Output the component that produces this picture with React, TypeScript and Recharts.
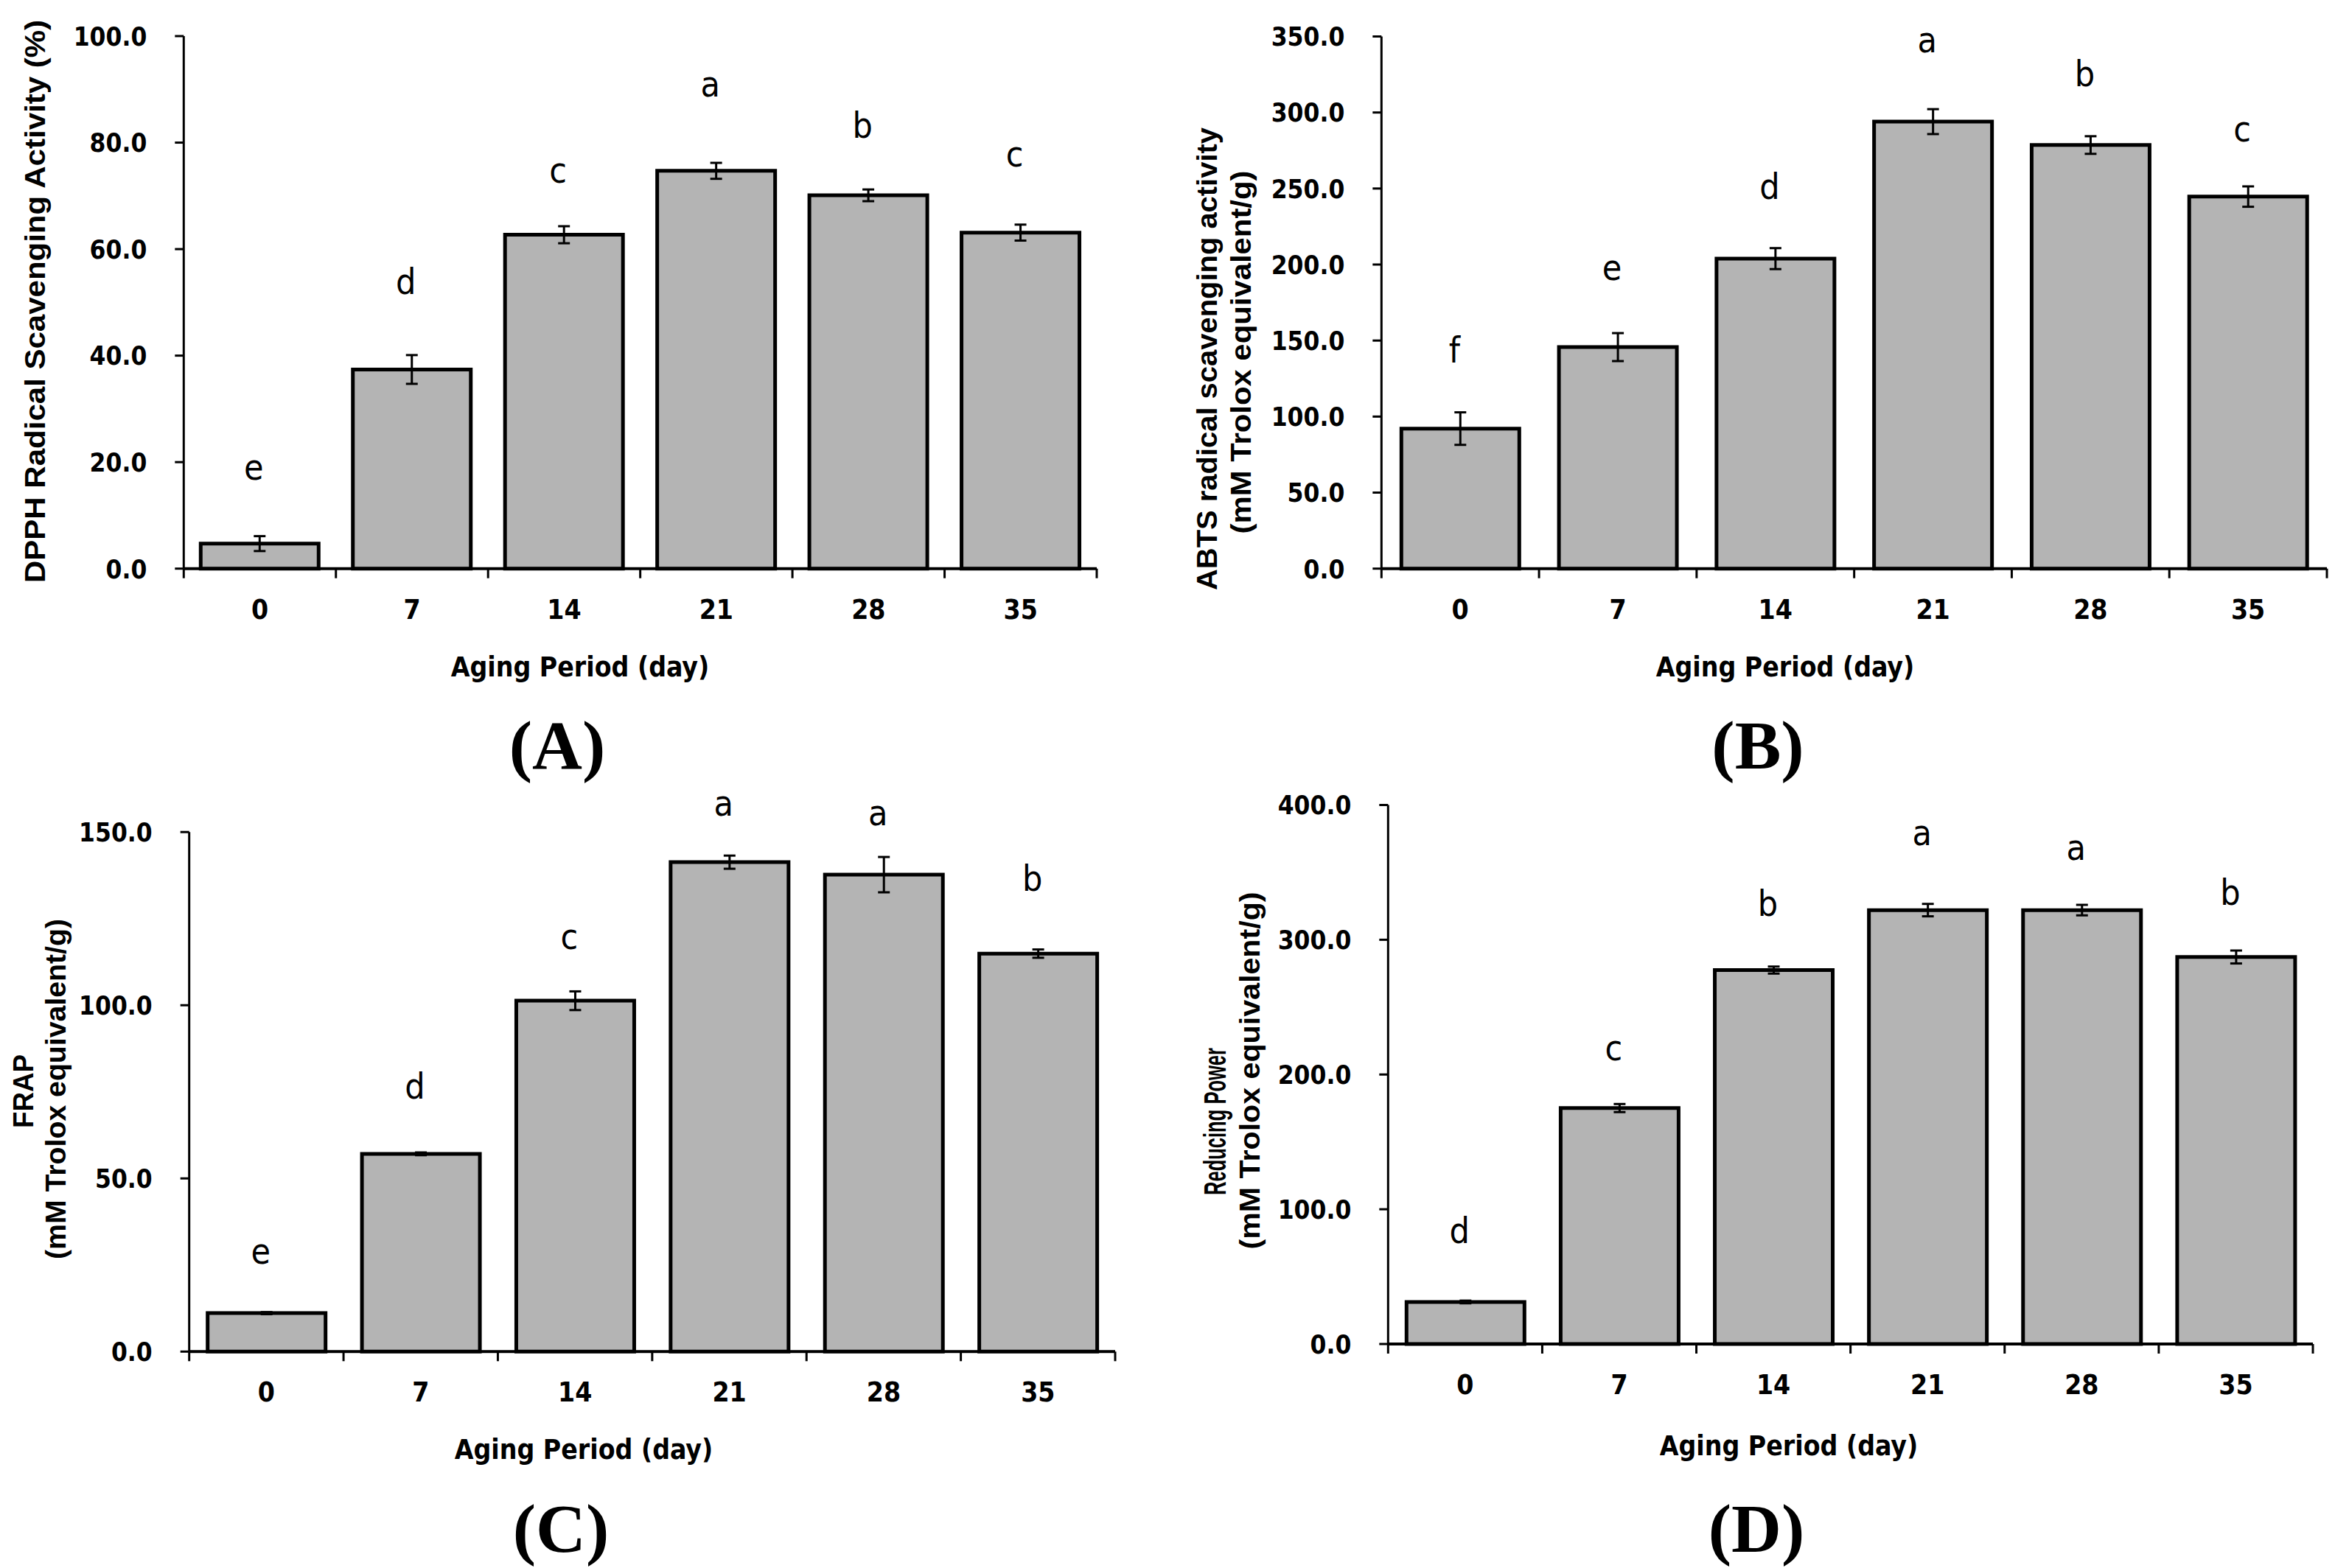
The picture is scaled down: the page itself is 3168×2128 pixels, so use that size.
import React from "react"
import { ComposedChart, Bar, XAxis, YAxis, ErrorBar, LabelList } from "recharts"

const days = ["0", "7", "14", "21", "28", "35"]

const dpphValues = [4.7, 37.4, 62.7, 74.7, 70.1, 63.1]
const dpphErrors = [1.4, 2.7, 1.6, 1.5, 1.1, 1.5]
const dpphLetters = ["e", "d", "c", "a", "b", "c"]
const dpphLetterAt = [19.1, 53.9, 74.8, 91.0, 83.3, 77.9]
const dpphTicks = [0, 20, 40, 60, 80, 100]

const abtsValues = [92.1, 145.7, 203.9, 294.0, 278.6, 244.7]
const abtsErrors = [10.7, 9.2, 6.9, 8.2, 5.8, 6.7]
const abtsLetters = ["f", "e", "d", "a", "b", "c"]
const abtsLetterAt = [143.6, 197.9, 251.6, 347.7, 325.6, 289.4]
const abtsTicks = [0, 50, 100, 150, 200, 250, 300, 350]

const frapValues = [11.1, 57.1, 101.3, 141.3, 137.7, 114.9]
const frapErrors = [0.3, 0.4, 2.7, 1.9, 5.1, 1.2]
const frapLetters = ["e", "d", "c", "a", "a", "b"]
const frapLetterAt = [29.0, 76.7, 119.8, 158.4, 155.6, 136.7]
const frapTicks = [0, 50, 100, 150]

const rpValues = [31.2, 175.1, 277.5, 322.0, 322.0, 287.2]
const rpErrors = [1.0, 3.0, 2.6, 4.6, 3.9, 4.8]
const rpLetters = ["d", "c", "b", "a", "a", "b"]
const rpLetterAt = [84.2, 220.0, 327.0, 379.6, 368.8, 335.0]
const rpTicks = [0, 100, 200, 300, 400]

const W = 1584
const YW = 200
const XH = 100

const condensed = "'DejaVu Sans Condensed', 'DejaVu Sans', sans-serif"
const arial = "'Liberation Sans', Arial, sans-serif"
const times = "'Liberation Serif', 'Times New Roman', serif"

type Line = { text: string; cx: number; cy: number; len: number; size?: number }

type PanelProps = {
  left: number
  top: number
  height: number
  plot: { l: number; t: number; r: number; b: number }
  values: number[]
  errors: number[]
  letters: string[]
  letterAt: number[]
  ticks: number[]
  yLines: Line[]
  xLabel: { cx: number; cy: number }
  tag: { text: string; cx: number; base: number }
}

function Panel(p: PanelProps) {
  const H = p.height
  const data = days.map((day, i) => ({ day, value: p.values[i], err: p.errors[i] }))
  const band = (p.plot.r - p.plot.l) / days.length
  const axisY = p.plot.b

  const xTick = (t: any) => {
    const off = t.payload?.offset > 10 ? t.payload.offset : band / 2
    const last = t.index === days.length - 1
    return (
      <g>
        <line x1={t.x - off} y1={axisY} x2={t.x - off} y2={axisY + 13} stroke="#000" strokeWidth={3} />
        {last && (
          <line x1={t.x + off} y1={axisY} x2={t.x + off} y2={axisY + 13} stroke="#000" strokeWidth={3} />
        )}
        <text
          x={t.x}
          y={axisY + 68}
          textAnchor="middle"
          fontFamily={condensed}
          fontWeight={700}
          fontSize={37}
          fill="#000"
        >
          {t.payload.value}
        </text>
      </g>
    )
  }

  const yTick = (t: any) => (
    <text
      x={t.x - 38}
      y={t.y + 12.8}
      textAnchor="end"
      fontFamily={condensed}
      fontWeight={700}
      fontSize={35}
      fill="#000"
    >
      {Number(t.payload.value).toFixed(1)}
    </text>
  )

  const letterContent = (l: any) => {
    const i = days.indexOf(String(l.value))
    const vb = l.viewBox ?? l
    if (i < 0 || !vb || vb.height == null) return null
    const top = Math.min(vb.y, vb.y + vb.height)
    const h = Math.abs(vb.height)
    const y = top + h - (p.letterAt[i] / p.values[i]) * h
    return (
      <text
        x={vb.x + vb.width / 2 - 8}
        y={y}
        textAnchor="middle"
        dominantBaseline="central"
        fontFamily={condensed}
        fontSize={48}
        fill="#000"
      >
        {p.letters[i]}
      </text>
    )
  }

  const yLabel = () => (
    <g>
      {p.yLines.map((ln) => (
        <text
          key={ln.text}
          transform={`translate(${ln.cx},${ln.cy}) rotate(-90)`}
          textAnchor="middle"
          dominantBaseline="central"
          fontFamily={arial}
          fontWeight={700}
          fontSize={ln.size ?? 38}
          textLength={ln.len}
          lengthAdjust="spacingAndGlyphs"
          fill="#000"
        >
          {ln.text}
        </text>
      ))}
    </g>
  )

  const xLabel = () => (
    <g>
      <text
        x={p.xLabel.cx}
        y={p.xLabel.cy + 13.5}
        textAnchor="middle"
        fontFamily={condensed}
        fontWeight={700}
        fontSize={37}
        fill="#000"
      >
        Aging Period (day)
      </text>
      <text
        x={p.tag.cx}
        y={p.tag.base}
        textAnchor="middle"
        fontFamily={times}
        fontWeight={700}
        fontSize={94}
        fill="#000"
      >
        {p.tag.text}
      </text>
    </g>
  )

  return (
    <div style={{ position: "absolute", left: p.left, top: p.top, width: W, height: H }}>
      <ComposedChart
        width={W}
        height={H}
        data={data}
        margin={{
          top: p.plot.t,
          right: W - p.plot.r,
          bottom: H - p.plot.b - XH,
          left: p.plot.l - YW,
        }}
      >
        <XAxis
          dataKey="day"
          type="category"
          height={XH}
          interval={0}
          tickLine={false}
          tickSize={0}
          tickMargin={0}
          axisLine={{ stroke: "#000", strokeWidth: 4 }}
          tick={xTick}
          label={xLabel}
        />
        <YAxis
          type="number"
          width={YW}
          domain={[0, p.ticks[p.ticks.length - 1]]}
          ticks={p.ticks}
          interval={0}
          tickSize={12}
          tickMargin={0}
          axisLine={{ stroke: "#000", strokeWidth: 3 }}
          tickLine={{ stroke: "#000", strokeWidth: 3 }}
          tick={yTick}
          label={yLabel}
        />
        <Bar
          dataKey="value"
          fill="#b4b4b4"
          stroke="#000"
          strokeWidth={5}
          barSize={160}
          isAnimationActive={false}
        >
          <ErrorBar dataKey="err" width={8} stroke="#000" strokeWidth={3} isAnimationActive={false} />
          <LabelList dataKey="day" content={letterContent} />
        </Bar>
      </ComposedChart>
    </div>
  )
}

export default function App() {
  return (
    <div
      style={{
        position: "absolute",
        left: 0,
        top: 0,
        width: 3168,
        height: 2128,
        background: "#fff",
        overflow: "hidden",
      }}
    >
      <Panel
        left={0}
        top={0}
        height={1070}
        plot={{ l: 249.3, t: 49, r: 1488, b: 771.7 }}
        values={dpphValues}
        errors={dpphErrors}
        letters={dpphLetters}
        letterAt={dpphLetterAt}
        ticks={dpphTicks}
        yLines={[{ text: "DPPH Radical Scavenging Activity (%)", cx: 48, cy: 409, len: 764 }]}
        xLabel={{ cx: 787, cy: 904 }}
        tag={{ text: "(A)", cx: 756, base: 1043 }}
      />
      <Panel
        left={1584}
        top={0}
        height={1070}
        plot={{ l: 290.3, t: 49.5, r: 1573, b: 771.7 }}
        values={abtsValues}
        errors={abtsErrors}
        letters={abtsLetters}
        letterAt={abtsLetterAt}
        ticks={abtsTicks}
        yLines={[
          { text: "ABTS radical scavenging activity", cx: 54, cy: 487, len: 628 },
          { text: "(mM Trolox equivalent/g)", cx: 100, cy: 478, len: 493 },
        ]}
        xLabel={{ cx: 838, cy: 904 }}
        tag={{ text: "(B)", cx: 801, base: 1043 }}
      />
      <Panel
        left={0}
        top={1040}
        height={1088}
        plot={{ l: 256.7, t: 89.2, r: 1513, b: 794.3 }}
        values={frapValues}
        errors={frapErrors}
        letters={frapLetters}
        letterAt={frapLetterAt}
        ticks={frapTicks}
        yLines={[
          { text: "FRAP", cx: 32, cy: 441, len: 100 },
          { text: "(mM Trolox equivalent/g)", cx: 76, cy: 438, len: 462 },
        ]}
        xLabel={{ cx: 792, cy: 926 }}
        tag={{ text: "(C)", cx: 761, base: 1066 }}
      />
      <Panel
        left={1584}
        top={1040}
        height={1088}
        plot={{ l: 299.3, t: 52.5, r: 1554, b: 784 }}
        values={rpValues}
        errors={rpErrors}
        letters={rpLetters}
        letterAt={rpLetterAt}
        ticks={rpTicks}
        yLines={[
          { text: "Reducing Power", cx: 64, cy: 482, len: 200, size: 42 },
          { text: "(mM Trolox equivalent/g)", cx: 112, cy: 413, len: 485 },
        ]}
        xLabel={{ cx: 843, cy: 921 }}
        tag={{ text: "(D)", cx: 799, base: 1066 }}
      />
    </div>
  )
}
